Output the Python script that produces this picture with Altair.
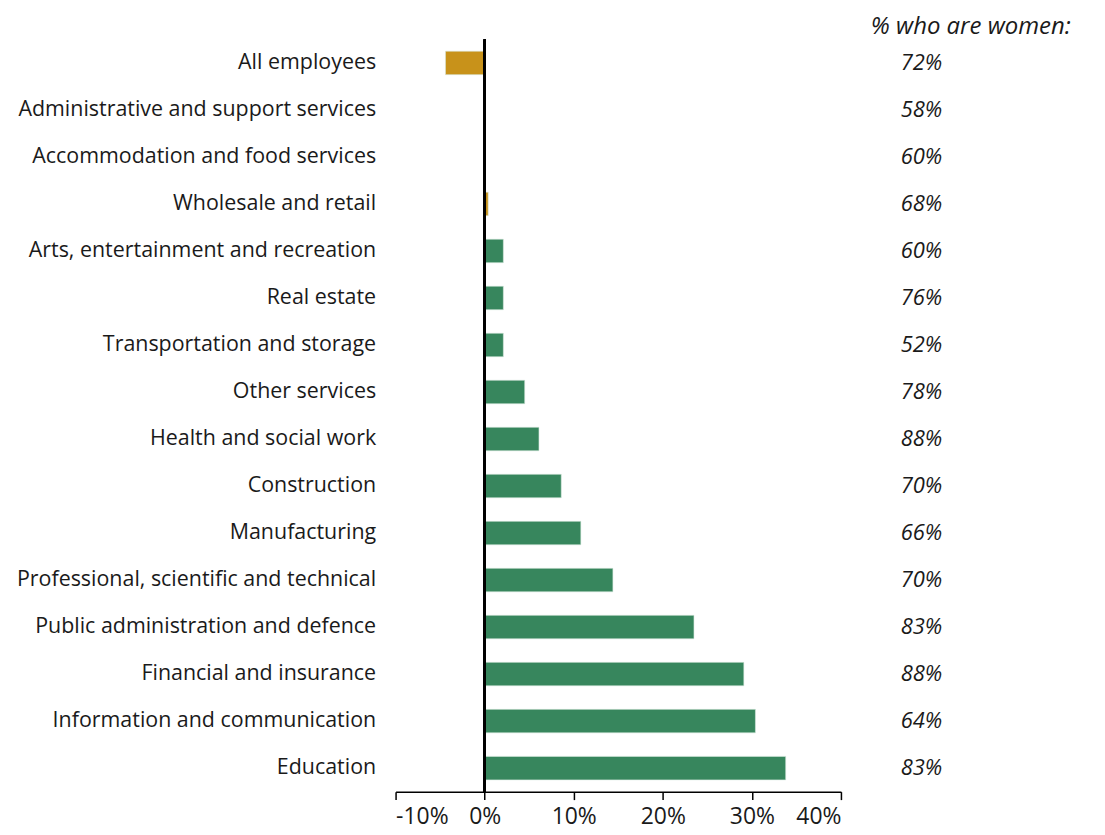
import altair as alt
import pandas as pd

industries = [
    "All employees",
    "Administrative and support services",
    "Accommodation and food services",
    "Wholesale and retail",
    "Arts, entertainment and recreation",
    "Real estate",
    "Transportation and storage",
    "Other services",
    "Health and social work",
    "Construction",
    "Manufacturing",
    "Professional, scientific and technical",
    "Public administration and defence",
    "Financial and insurance",
    "Information and communication",
    "Education",
]
pay_gap = [-4.4, 0.1, 0.0, 0.4, 2.1, 2.1, 2.1, 4.5, 6.1, 8.6, 10.8, 14.4, 23.5, 29.1, 30.4, 33.8]
group = ["orange", "green", "green", "orange"] + ["green"] * 12
pct_women = [72, 58, 60, 68, 60, 76, 52, 78, 88, 70, 66, 70, 83, 88, 64, 83]
x_ticks = [-10, 0, 10, 20, 30, 40]
header_text = ["% who are women:"]

df = pd.DataFrame({
    "industry": industries,
    "gap": pay_gap,
    "group": group,
    "women": [f"{v}%" for v in pct_women],
})
hdr = pd.DataFrame({"t": header_text})

FONT = "Open Sans"
W, H = 447, 755

y_enc = alt.Y(
    "industry:N", sort=industries, title=None,
    scale=alt.Scale(paddingInner=0.5, paddingOuter=0.25),
    axis=alt.Axis(domain=False, ticks=False, labelPadding=20, labelFontSize=21.5,
                  labelFont=FONT, labelColor="#1a1a1a", labelLimit=0),
)

bars = alt.Chart(df).mark_bar(stroke="#d8eadf", strokeWidth=0.6).encode(
    x=alt.X("gap:Q", title=None,
            scale=alt.Scale(domain=[-10, 40], nice=False, zero=False),
            axis=alt.Axis(values=x_ticks, grid=False, labelExpr="datum.value + '%'",
                          labelFont=FONT, labelFontSize=23, labelColor="#1a1a1a",
                          domainColor="#000000", domainWidth=1.5, tickColor="#000000",
                          tickWidth=1.5, tickSize=8, labelPadding=6)),
    y=y_enc,
    color=alt.Color("group:N", legend=None,
                    scale=alt.Scale(domain=["orange", "green"], range=["#c8921a", "#37865d"])),
)

zero = alt.Chart(df).mark_rule(color="#000000", strokeWidth=1.8).encode(
    x=alt.datum(0)
)

women = alt.Chart(df).mark_text(
    align="left", baseline="middle", font=FONT, fontSize=22, fontStyle="italic",
    color="#1a1a1a"
).encode(
    y=alt.Y("industry:N", sort=industries),
    x=alt.value(W + 60),
    text="women:N",
)

header = alt.Chart(hdr).mark_text(
    align="left", baseline="middle", font=FONT, fontSize=24, fontStyle="italic",
    color="#1a1a1a"
).encode(
    x=alt.value(W + 30),
    y=alt.value(-12),
    text="t:N",
)

chart = alt.layer(bars, zero, women, header).properties(
    width=W, height=H,
    autosize=alt.AutoSizeParams(type="none"),
    padding={"left": 389, "top": 30, "right": 257, "bottom": 42},
).configure_view(stroke=None)

chart.save("out.html", embed_options={"renderer": "svg", "actions": False})
